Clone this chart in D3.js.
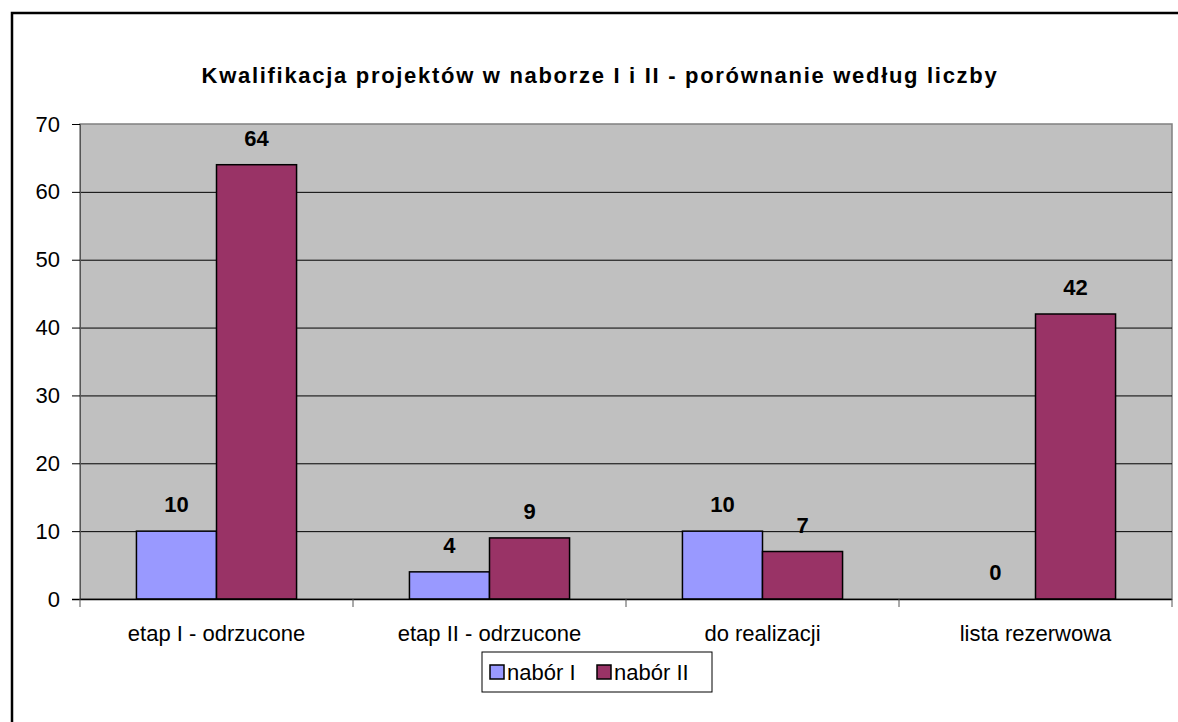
<!DOCTYPE html>
<html>
<head>
<meta charset="utf-8">
<script src="https://cdn.jsdelivr.net/npm/d3@7"></script>
<style>
  body { margin: 0; background: #fff; }
  svg { display: block; font-family: "Liberation Sans", Arial, sans-serif; }
</style>
</head>
<body>
<div id="chart"></div>
<script>
// chart data
const categories = ["etap I - odrzucone", "etap II - odrzucone", "do realizacji", "lista rezerwowa"];
const seriesNames = ["nabór I", "nabór II"];
const naborI = [10, 4, 10, 0];
const naborII = [64, 9, 7, 42];
const yTicks = [0, 10, 20, 30, 40, 50, 60, 70];
const colors = ["#9999FF", "#993366"];

const width = 1178, height = 722;
const plot = {left: 80, right: 1172, top: 124, bottom: 599};
const fs = 22;

const svg = d3.select("#chart").append("svg")
  .attr("width", width)
  .attr("height", height);

// outer chart border (cropped on right and bottom)
svg.append("rect")
  .attr("x", 12).attr("y", 13)
  .attr("width", 1200).attr("height", 800)
  .attr("fill", "#fff")
  .attr("stroke", "#000")
  .attr("stroke-width", 2.5);

svg.append("text")
  .attr("x", 600).attr("y", 83)
  .attr("text-anchor", "middle")
  .attr("font-weight", "bold")
  .attr("font-size", 22)
  .attr("letter-spacing", 1.7)
  .text("Kwalifikacja projektów w naborze I i II - porównanie według liczby");

const x0 = d3.scaleBand()
  .domain(categories)
  .range([plot.left, plot.right])
  .paddingInner(0)
  .paddingOuter(0);

const x1 = d3.scaleBand()
  .domain(seriesNames)
  .range([0, x0.bandwidth()])
  .paddingInner(0)
  .paddingOuter(0.705);

const y = d3.scaleLinear()
  .domain([0, 70])
  .range([plot.bottom, plot.top]);

// plot area
svg.append("rect")
  .attr("x", plot.left).attr("y", plot.top)
  .attr("width", plot.right - plot.left)
  .attr("height", plot.bottom - plot.top)
  .attr("fill", "#C0C0C0")
  .attr("stroke", "#808080")
  .attr("stroke-width", 1.5);

// gridlines
svg.append("g")
  .selectAll("line")
  .data(yTicks.filter(d => d > 0 && d < 70))
  .enter().append("line")
  .attr("x1", plot.left).attr("x2", plot.right)
  .attr("y1", d => y(d) + 0.5).attr("y2", d => y(d) + 0.5)
  .attr("stroke", "#000")
  .attr("stroke-width", 1);

// y axis
const yAxis = svg.append("g")
  .attr("transform", `translate(${plot.left},0)`)
  .call(d3.axisLeft(y).tickValues(yTicks).tickSize(8).tickPadding(12));
yAxis.select(".domain").attr("stroke", "#555").attr("stroke-width", 1);
yAxis.selectAll(".tick line").attr("stroke", "#000");
yAxis.selectAll(".tick text")
  .attr("font-size", fs)
  .attr("font-family", "Liberation Sans, Arial, sans-serif")
  .attr("fill", "#000");

// bars
const groups = svg.append("g")
  .selectAll("g")
  .data(categories)
  .enter().append("g")
  .attr("transform", d => `translate(${x0(d)},0)`);

const rows = (c, i) => [
  {name: seriesNames[0], value: naborI[i]},
  {name: seriesNames[1], value: naborII[i]}
];

groups.selectAll("rect")
  .data(rows)
  .enter().append("rect")
  .filter(d => d.value > 0)
  .attr("x", d => x1(d.name))
  .attr("y", d => y(d.value))
  .attr("width", x1.bandwidth())
  .attr("height", d => y(0) - y(d.value))
  .attr("fill", d => colors[seriesNames.indexOf(d.name)])
  .attr("stroke", "#000")
  .attr("stroke-width", 1.5);

groups.selectAll("text")
  .data(rows)
  .enter().append("text")
  .attr("x", d => x1(d.name) + x1.bandwidth() / 2)
  .attr("y", d => y(d.value) - 19)
  .attr("text-anchor", "middle")
  .attr("font-weight", "bold")
  .attr("font-size", fs)
  .text(d => d.value);

// x axis
const xAxis = svg.append("g")
  .attr("transform", `translate(0,${plot.bottom})`);
xAxis.append("line")
  .attr("x1", plot.left - 8).attr("x2", plot.right)
  .attr("y1", 0.5).attr("y2", 0.5)
  .attr("stroke", "#000").attr("stroke-width", 1.5);
xAxis.selectAll(".xtick")
  .data(categories.concat([null]))
  .enter().append("line")
  .attr("class", "xtick")
  .attr("x1", d => d ? x0(d) : plot.right)
  .attr("x2", d => d ? x0(d) : plot.right)
  .attr("y1", 0).attr("y2", 8)
  .attr("stroke", "#555");
xAxis.selectAll(".xlabel")
  .data(categories)
  .enter().append("text")
  .attr("class", "xlabel")
  .attr("x", d => x0(d) + x0.bandwidth() / 2)
  .attr("y", 42)
  .attr("text-anchor", "middle")
  .attr("font-size", fs)
  .text(d => d);

// legend
const legend = svg.append("g").attr("transform", "translate(482,652)");
legend.append("rect")
  .attr("width", 230).attr("height", 40)
  .attr("fill", "#fff")
  .attr("stroke", "#000").attr("stroke-width", 1);
const items = legend.selectAll(".item")
  .data(seriesNames)
  .enter().append("g")
  .attr("transform", (d, i) => `translate(${8 + i * 107},0)`);
items.append("rect")
  .attr("x", 0).attr("y", 13)
  .attr("width", 14).attr("height", 14)
  .attr("fill", (d, i) => colors[i])
  .attr("stroke", "#000").attr("stroke-width", 1.5);
items.append("text")
  .attr("x", 17).attr("y", 28)
  .attr("font-size", fs)
  .text(d => d);
</script>
</body>
</html>
